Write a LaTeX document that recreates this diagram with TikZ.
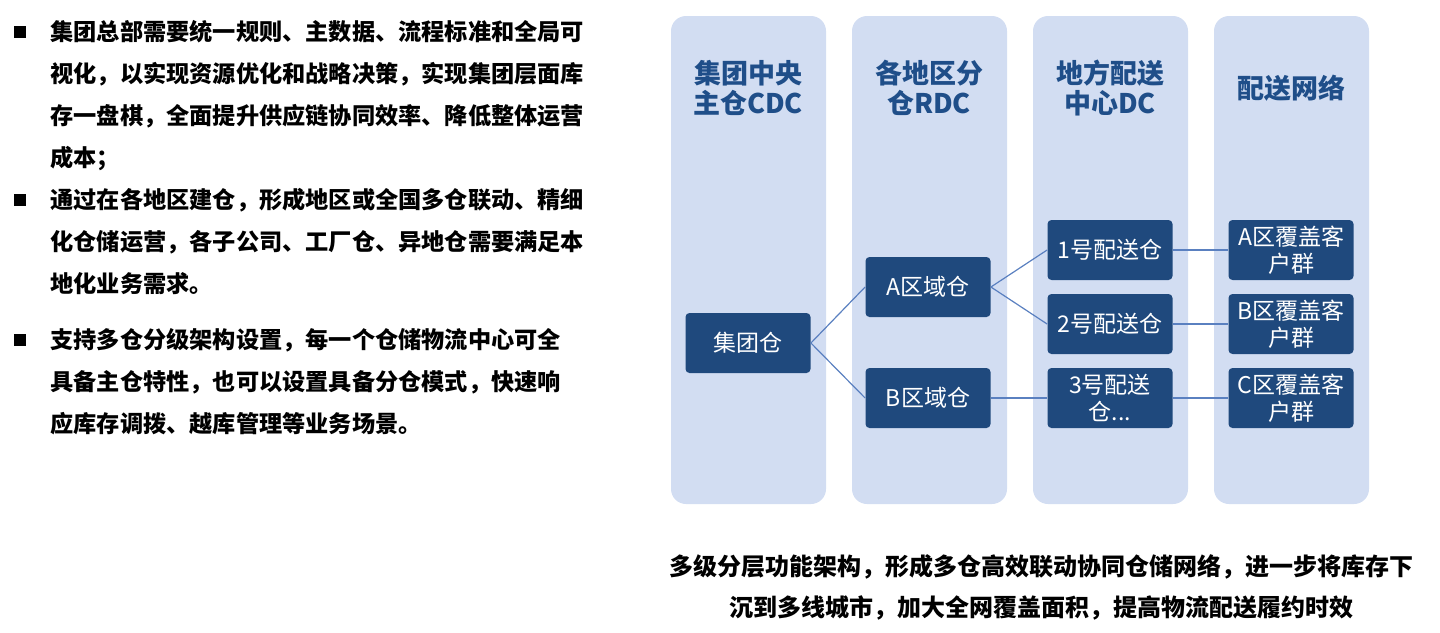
\documentclass[tikz,border=0pt]{standalone}
\usepackage{fontspec}
\newfontfamily\cjk{Noto Sans CJK SC}
\definecolor{panelblue}{HTML}{D2DDF2}
\definecolor{boxblue}{HTML}{1F497D}
\definecolor{headblue}{HTML}{1F4E89}
\definecolor{linkblue}{HTML}{5A80C0}
\tikzset{
  panel/.style={fill=panelblue, rounded corners=7.5pt},
  head/.style={text=headblue, align=center, font=\cjk\bfseries\fontsize{13.5}{15}\selectfont},
  cang/.style={fill=boxblue, text=white, rounded corners=2pt, minimum width=62.5pt, minimum height=30pt, inner sep=1pt, align=center, font=\cjk\fontsize{11.5}{13.5}\selectfont},
  link/.style={draw=linkblue, line width=0.6pt},
  para/.style={anchor=north west, align=left, inner sep=0pt, font=\cjk\bfseries\fontsize{11.6}{21}\selectfont},
  bullet/.style={fill=black, minimum size=6.2pt, inner sep=0pt}
}
\begin{document}
\begin{tikzpicture}[x=0.5pt,y=-0.5pt]
  \useasboundingbox (0,0) rectangle (1440,632);
  % left text
  \node[bullet] (b1) at (20,32) {};
  \node[para] (p1) at (50,20) {集团总部需要统一规则、主数据、流程标准和全局可\\视化，以实现资源优化和战略决策，实现集团层面库\\存一盘棋，全面提升供应链协同效率、降低整体运营\\成本；};
  \node[bullet] (b2) at (20,200) {};
  \node[para] (p2) at (50,188) {通过在各地区建仓，形成地区或全国多仓联动、精细\\化仓储运营，各子公司、工厂仓、异地仓需要满足本\\地化业务需求。};
  \node[bullet] (b3) at (20,340) {};
  \node[para] (p3) at (50,328) {支持多仓分级架构设置，每一个仓储物流中心可全\\具备主仓特性，也可以设置具备分仓模式，快速响\\应库存调拨、越库管理等业务场景。};
  % columns
  \fill[panel] (671,16) rectangle (826,504);
  \fill[panel] (852,16) rectangle (1007,504);
  \fill[panel] (1033,16) rectangle (1188,504);
  \fill[panel] (1214,16) rectangle (1369,504);
  \node[head] (h1) at (748,88) {集团中央\\主仓CDC};
  \node[head] (h2) at (929,88) {各地区分\\仓RDC};
  \node[head] (h3) at (1110,88) {地方配送\\中心DC};
  \node[head] (h4) at (1291,88) {配送网络};
  % warehouses
  \node[cang] (jt) at (748,343) {集团仓};
  \node[cang] (qa) at (928,287) {A区域仓};
  \node[cang] (qb) at (928,398) {B区域仓};
  \node[cang] (ps1) at (1110,250) {1号配送仓};
  \node[cang] (ps2) at (1110,324) {2号配送仓};
  \node[cang] (ps3) at (1110,398) {3号配送\\仓...};
  \node[cang] (kh1) at (1291,250) {A区覆盖客\\户群};
  \node[cang] (kh2) at (1291,324) {B区覆盖客\\户群};
  \node[cang] (kh3) at (1291,398) {C区覆盖客\\户群};
  \draw[link] (jt.east) -- (qa.west);
  \draw[link] (jt.east) -- (qb.west);
  \draw[link] (qa.east) -- (ps1.west);
  \draw[link] (qa.east) -- (ps2.west);
  \draw[link] (qb.east) -- (ps3.west);
  \draw[link] (ps1.east) -- (kh1.west);
  \draw[link] (ps2.east) -- (kh2.west);
  \draw[link] (ps3.east) -- (kh3.west);
  % bottom note
  \node[align=center, font=\cjk\bfseries\fontsize{12}{20.5}\selectfont] (note) at (1041,587) {多级分层功能架构，形成多仓高效联动协同仓储网络，进一步将库存下\\沉到多线城市，加大全网覆盖面积，提高物流配送履约时效};
\end{tikzpicture}
\end{document}
